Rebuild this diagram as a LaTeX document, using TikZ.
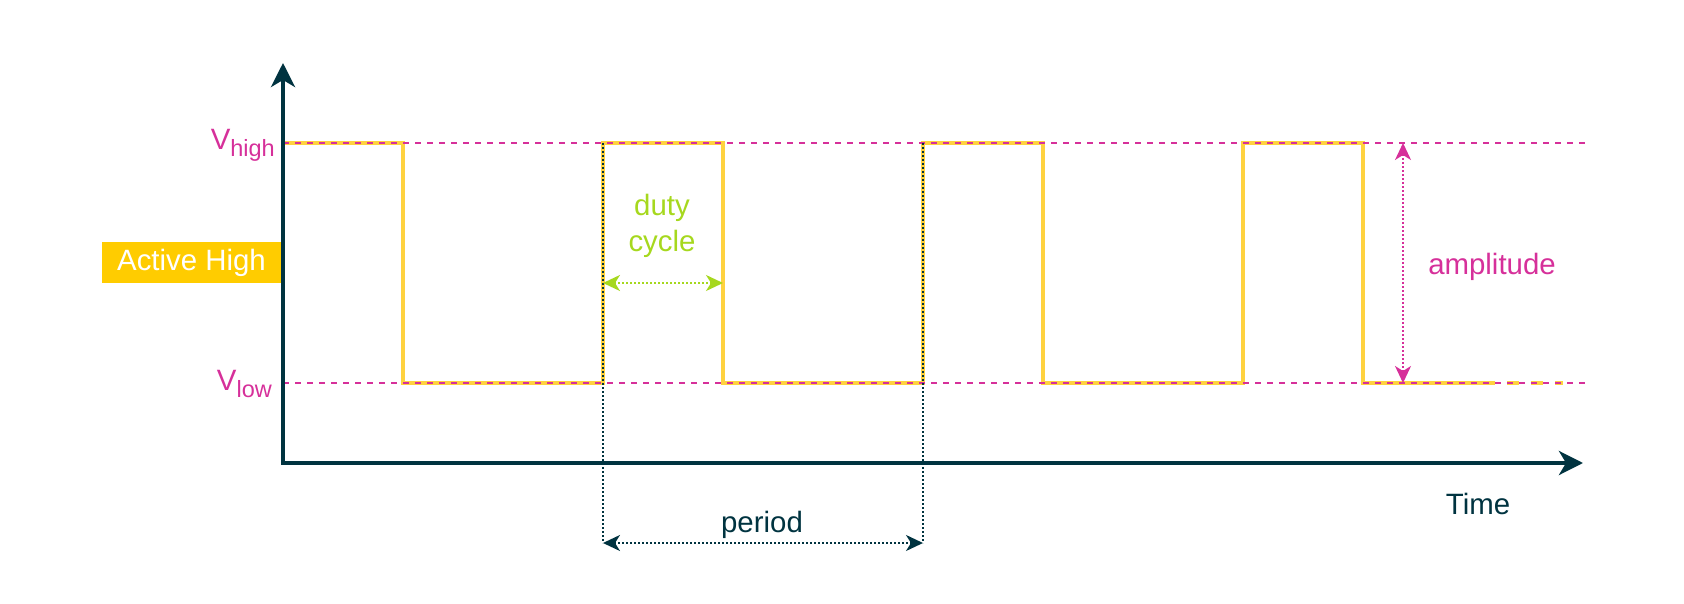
\documentclass[tikz,border=0pt]{standalone}
\usepackage{fontspec}
\setmainfont{Liberation Sans}
\usetikzlibrary{arrows.meta}
\definecolor{dark}{HTML}{003340}
\definecolor{pinkc}{HTML}{D6309A}
\definecolor{wave}{HTML}{FFD23F}
\definecolor{boxc}{HTML}{FFCC00}
\definecolor{greenc}{HTML}{A6D81E}
\tikzset{
  lbl/.style={font=\fontsize{29.4}{36.7}\selectfont, inner sep=0pt},
  sig/.style={wave, line width=3.5pt, line join=miter},
  sigdash/.style={wave, line width=3.5pt, dash pattern=on 12pt off 12pt},
  lvl/.style={pinkc, line width=2pt, dash pattern=on 6pt off 6pt},
  guide/.style={dark, line width=2pt, dash pattern=on 2pt off 2pt},
  axisline/.style={dark, line width=4pt, line join=miter,
    {Stealth[length=24pt,width=24pt,inset=7pt]}-{Stealth[length=24pt,width=24pt,inset=7pt]}},
  smalltip/.style={{Stealth[length=17pt,width=16pt,inset=5pt]}-{Stealth[length=17pt,width=16pt,inset=5pt]}},
}
\begin{document}
\begin{tikzpicture}[x=1pt,y=-1pt]
\useasboundingbox (0,0) rectangle (1684,604);
% key coordinates
\coordinate (ytip) at (283,63);
\coordinate (orig) at (283,463);
\coordinate (xtip) at (1583,463);
\coordinate (hA) at (283,143);
\coordinate (hB) at (1585,143);
\coordinate (lA) at (283,383);
\coordinate (lB) at (1585,383);
\coordinate (p1t) at (603,143);
\coordinate (p1b) at (603,543);
\coordinate (p2t) at (923,143);
\coordinate (p2b) at (923,543);
\coordinate (d1) at (603,283);
\coordinate (d2) at (723,283);
\coordinate (a1) at (1403,143);
\coordinate (a2) at (1403,383);
\coordinate (sEnd) at (1483,383);
\coordinate (sDash) at (1563,383);
% waveform
\draw[sig] (hA) -- (403,143) -- (403,383) -- (603,383) -- (603,143) -- (723,143) -- (723,383)
  -- (923,383) -- (923,143) -- (1043,143) -- (1043,383) -- (1243,383) -- (1243,143)
  -- (1363,143) -- (1363,383) -- (sEnd);
\draw[sigdash] (sEnd) -- (sDash);
% level lines
\draw[lvl] (hA) -- (hB);
\draw[lvl] (lA) -- (lB);
% axes
\draw[axisline] (ytip) -- (orig) -- (xtip);
% period guides
\draw[guide] (p1t) -- (p1b);
\draw[guide] (p2t) -- (p2b);
\draw[guide, smalltip] (p1b) -- (p2b);
% duty cycle arrow
\draw[greenc, line width=2pt, dash pattern=on 2pt off 2pt, smalltip] (d1) -- (d2);
% amplitude arrow
\draw[pinkc, line width=2pt, dash pattern=on 2pt off 2pt, smalltip] (a1) -- (a2);
% labels
\node[lbl, text=pinkc, anchor=base east] (vh) at (275,150) {V\raisebox{-7pt}{\fontsize{23.5}{24}\selectfont high}};
\node[lbl, text=pinkc, anchor=base east] (vl) at (272,390) {V\raisebox{-7pt}{\fontsize{23.5}{24}\selectfont low}};
\node[lbl, fill=boxc, text=white, minimum width=179pt, minimum height=41pt] (act) at (191.5,262.7) {Active High};
\node[lbl, text=greenc, align=center] (duty) at (662,226) {duty\\cycle};
\node[lbl, text=dark, anchor=base] (per) at (762,532) {period};
\node[lbl, text=pinkc, anchor=base] (amp) at (1492,274) {amplitude};
\node[lbl, text=dark, anchor=base] (time) at (1478,514) {Time};
\end{tikzpicture}
\end{document}
